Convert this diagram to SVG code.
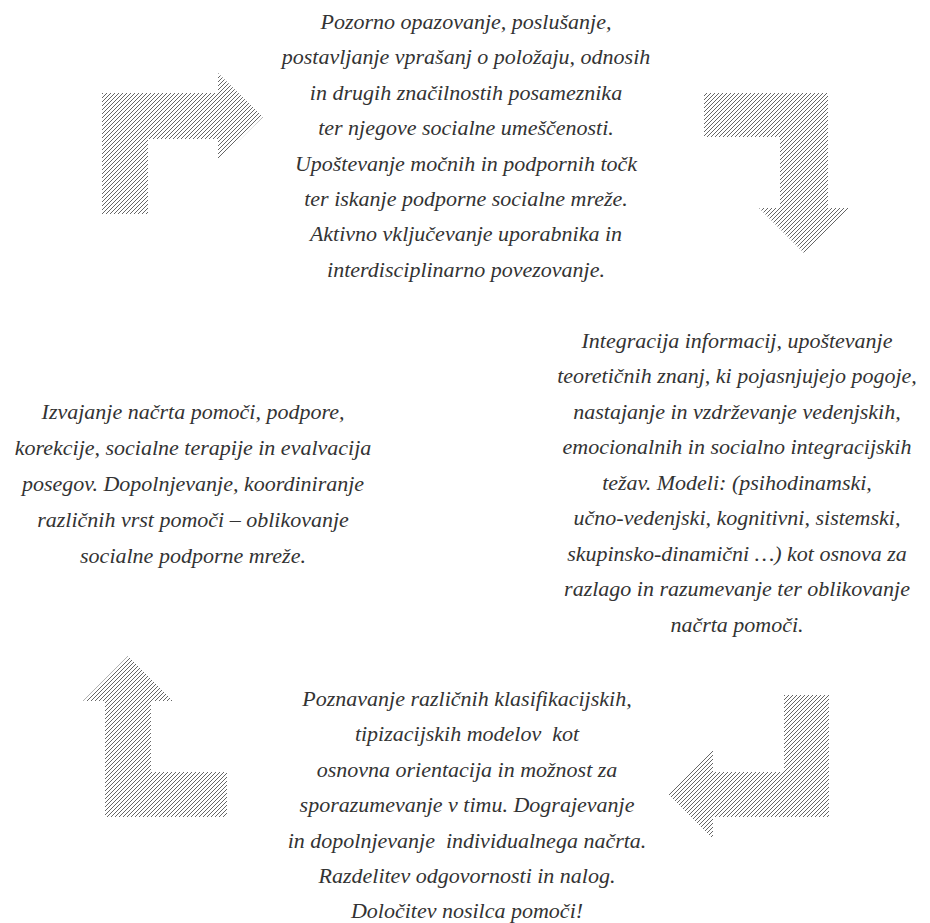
<svg xmlns="http://www.w3.org/2000/svg" width="930" height="923" viewBox="0 0 930 923">
  <defs>
    <pattern id="hatch" patternUnits="userSpaceOnUse" width="4" height="4">
      <path d="M-1,1 L1,-1 M0,4 L4,0 M3,5 L5,3" stroke="#555555" stroke-width="0.9"/>
    </pattern>
  </defs>
  <style>
    text { font-family: "Liberation Serif", "Times New Roman", serif; font-style: italic; font-size: 22px; fill: #333333; text-anchor: middle; white-space: pre; }
    .arrow { fill: url(#hatch); stroke: none; }
  </style>
  <rect width="930" height="923" fill="#ffffff"/>

  <g id="connectors">
    <polygon class="arrow" points="102,93 218,93 218,73 263,117 218,161 218,139 148,139 148,214 102,214"/>
    <polygon class="arrow" points="704,93 828,93 828,208 849,208 804,253 759,208 780,208 780,137 704,137"/>
    <polygon class="arrow" points="784,695 829,695 829,817 713,817 713,839 668,794 713,749 713,772 784,772"/>
    <polygon class="arrow" points="128,656 173,701 151,701 151,772 227,772 227,817 105,817 105,701 83,701"/>
  </g>

  <g id="node-observation">
    <text x="466" y="29">Pozorno opazovanje, poslušanje,</text>
    <text x="466" y="64">postavljanje vprašanj o položaju, odnosih</text>
    <text x="466" y="100">in drugih značilnostih posameznika</text>
    <text x="466" y="135">ter njegove socialne umeščenosti.</text>
    <text x="466" y="171">Upoštevanje močnih in podpornih točk</text>
    <text x="466" y="206">ter iskanje podporne socialne mreže.</text>
    <text x="466" y="241">Aktivno vključevanje uporabnika in</text>
    <text x="466" y="277">interdisciplinarno povezovanje.</text>
  </g>

  <g id="node-integration">
    <text x="737" y="348">Integracija informacij, upoštevanje</text>
    <text x="737" y="383">teoretičnih znanj, ki pojasnjujejo pogoje,</text>
    <text x="737" y="419">nastajanje in vzdrževanje vedenjskih,</text>
    <text x="737" y="454">emocionalnih in socialno integracijskih</text>
    <text x="737" y="490">težav. Modeli: (psihodinamski,</text>
    <text x="737" y="525">učno-vedenjski, kognitivni, sistemski,</text>
    <text x="737" y="561">skupinsko-dinamični …) kot osnova za</text>
    <text x="737" y="596">razlago in razumevanje ter oblikovanje</text>
    <text x="737" y="632">načrta pomoči.</text>
  </g>

  <g id="node-classification">
    <text x="467" y="706">Poznavanje različnih klasifikacijskih,</text>
    <text x="467" y="741">tipizacijskih modelov  kot</text>
    <text x="467" y="777">osnovna orientacija in možnost za</text>
    <text x="467" y="812">sporazumevanje v timu. Dograjevanje</text>
    <text x="467" y="848">in dopolnjevanje  individualnega načrta.</text>
    <text x="467" y="883">Razdelitev odgovornosti in nalog.</text>
    <text x="467" y="918">Določitev nosilca pomoči!</text>
  </g>

  <g id="node-implementation">
    <text x="193" y="419">Izvajanje načrta pomoči, podpore,</text>
    <text x="193" y="455">korekcije, socialne terapije in evalvacija</text>
    <text x="193" y="491">posegov. Dopolnjevanje, koordiniranje</text>
    <text x="193" y="527">različnih vrst pomoči – oblikovanje</text>
    <text x="193" y="563">socialne podporne mreže.</text>
  </g>
</svg>
